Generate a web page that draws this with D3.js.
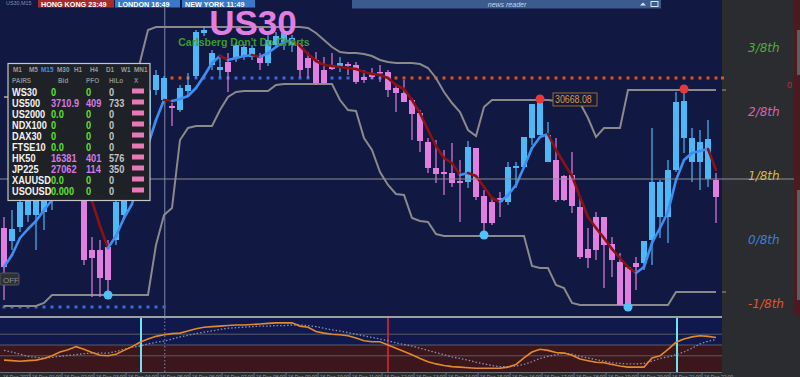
<!DOCTYPE html>
<html>
<head>
<meta charset="utf-8">
<script src="https://cdn.jsdelivr.net/npm/d3@7"></script>
<style>
  body { margin: 0; background: #2a2c30; overflow: hidden; }
  svg { display: block; font-family: "Liberation Sans", Arial, sans-serif; }
</style>
</head>
<body>
<div id="chart"></div>
<script>
// US30 M15 candles
const opens = [30410,30384,30412,30436,30436,30442,30466,30482,30522,30506,
  30486,30366,30366,30372,30386,30436,30476,30546,30616,30686,
  30666,30654,30646,30684,30714,30800,30736,30726,30742,30750,
  30752,30752,30752,30740,30776,30782,30776,30776,30750,30746,
  30726,30732,30732,30738,30736,30712,30720,30722,30722,30690,
  30680,30666,30640,30582,30530,30522,30520,30504,30502,30570,
  30474,30462,30470,30462,30530,30532,30590,30596,30542,30546,
  30514,30516,30452,30368,30432,30432,30378,30342,30332,30340,
  30340,30386,30432,30432,30526,30590,30542,30542,30508,30506]
const highs = [30432,30446,30476,30482,30486,30490,30510,30530,30536,30546,
  30506,30392,30386,30386,30476,30496,30556,30636,30696,30726,
  30714,30660,30696,30720,30806,30812,30766,30750,30760,30782,
  30778,30776,30760,30800,30802,30806,30796,30780,30762,30762,
  30752,30760,30752,30742,30742,30726,30730,30736,30726,30696,
  30706,30670,30646,30590,30586,30566,30580,30546,30584,30570,
  30486,30470,30482,30542,30542,30592,30658,30668.08,30622,30590,
  30516,30562,30470,30410,30442,30432,30392,30360,30332,30352,
  30384,30610,30506,30546,30682,30688,30610,30606,30626,30520]
const lows = [30266,30366,30402,30422,30366,30406,30446,30470,30482,30490,
  30336,30272,30272,30276,30376,30426,30466,30536,30606,30676,
  30662,30614,30642,30672,30710,30794,30726,30712,30682,30742,
  30746,30746,30726,30734,30770,30766,30762,30712,30710,30696,
  30698,30726,30722,30716,30698,30700,30708,30702,30672,30642,
  30662,30586,30562,30520,30500,30476,30492,30422,30490,30466,
  30396,30416,30432,30456,30490,30530,30576,30596,30542,30462,
  30464,30440,30348,30330,30346,30290,30312,30256,30252,30286,
  30326,30336,30390,30380,30522,30560,30502,30486,30492,30420]
const closes = [30332,30408,30462,30466,30466,30476,30496,30516,30496,30530,
  30346,30350,30310,30306,30462,30486,30546,30626,30686,30716,
  30710,30650,30690,30696,30802,30806,30760,30732,30722,30776,
  30772,30770,30740,30786,30794,30800,30790,30726,30730,30700,
  30700,30728,30740,30734,30702,30706,30712,30720,30686,30680,
  30662,30638,30584,30530,30518,30518,30500,30500,30572,30472,
  30420,30420,30462,30532,30534,30592,30658,30660,30596,30466,
  30466,30454,30352,30350,30366,30376,30346,30256,30256,30332,
  30384,30502,30502,30526,30662,30664,30590,30582,30588,30472]

// moving average (blue when rising, red when falling)
const ma = [30332,30356,30390,30408,30424,30446,30466,30480,30488,30490,
  30480,30464,30414,30370,30394,30430,30458,30516,30576,30626,
  30666,30664,30668,30674,30690,30714,30740,30754,30746,30750,
  30754,30756,30752,30760,30772,30782,30786,30774,30758,30744,
  30736,30734,30732,30730,30728,30722,30718,30716,30710,30696,
  30688,30666,30640,30606,30574,30550,30540,30516,30520,30514,
  30492,30470,30462,30476,30496,30532,30570,30592,30598,30566,
  30540,30514,30472,30432,30410,30390,30368,30350,30332,30320,
  30332,30380,30410,30442,30506,30546,30560,30564,30568,30526]

// channel bands
const upperBand = [30672,30672,30672,30672,30672,30672,30672,30672,30672,30672,
  30672,30672,30672,30672,30672,30672,30672,30742,30806,30812,
  30812,30812,30812,30812,30812,30812,30812,30812,30812,30812,
  30812,30812,30812,30812,30812,30812,30812,30812,30810,30800,
  30786,30772,30762,30760,30760,30758,30754,30746,30742,30740,
  30740,30740,30738,30730,30710,30682,30660,30642,30606,30594,
  30652,30666,30666,30666,30666,30666,30666,30666,30666,30664,
  30664,30662,30660,30630,30592,30610,30610,30610,30686,30686,
  30686,30686,30686,30686,30686,30686,30686,30686,30686,30686]
const lowerBand = [30254,30254,30254,30254,30254,30260,30276,30276,30276,30276,
  30276,30276,30276,30276,30276,30276,30276,30276,30276,30376,
  30436,30450,30586,30610,30614,30614,30614,30646,30672,30682,
  30684,30684,30684,30684,30696,30698,30698,30698,30698,30698,
  30698,30698,30666,30646,30644,30590,30566,30522,30496,30478,
  30476,30430,30424,30422,30398,30394,30394,30394,30394,30394,
  30394,30394,30394,30394,30394,30394,30334,30330,30330,30296,
  30290,30260,30256,30256,30256,30256,30256,30256,30256,30256,
  30256,30256,30256,30256,30282,30282,30282,30282,30282,30282]

// swing markers (candle index)
const swingHighs = [67, 85]
const swingLows = [13, 60, 78]
const priceTag = "30668.08"

// dotted level runs: [price, fromIndex, toIndex, kind]
const dotRuns = [[30252, 0, 20, "sup"], [30710, 21, 23, "res"], [30710, 24, 48, "sup"], [30710, 49, 89, "res"]]

// murrey math levels on the right
const mmNames = ["3/8th", "2/8th", "1/8th", "0/8th", "-1/8th"]
const mmLevels = [30764, 30636, 30508, 30380, 30252]
const mmColors = ["#4fae3a", "#d465b8", "#d6bd45", "#3d7fdc", "#e2542a"]

// oscillator window (0..100)
const osc = [22,21,20,21,22,25,30,37,41,47,
  42,36,31,30,33,40,47,55,61,66,
  69,71,72,76,80,83,84,85,86,87,
  87,88,89,90,91,91,91,85,83,75,
  72,70,69,67,63,58,56,56,50,44,
  38,32,25,19,15,12,10,9,8,7,
  7,7,7,9,14,26,37,42,40,36,
  35,31,24,21,18,17,14,11,9,9,
  9,26,30,42,55,61,65,67,66,64]
const oscSignal = [40,37,33,29,27,26,27,29,31,32,
  34,35,35,35,38,42,46,48,52,55,
  57,61,65,68,71,74,76,79,81,82,
  83,84,85,85,86,86,87,87,86,84,
  81,78,76,73,70,67,64,61,58,54,
  51,48,44,40,36,32,28,25,22,18,
  15,12,10,10,11,14,19,25,29,32,
  35,33,29,26,23,20,17,16,15,15,
  16,20,25,28,32,37,44,52,57,60]
const oscLevels = [70, 50, 30]
const upCrosses = [17, 84]
const downCrosses = [48]
const daySplit = 20.1

// time axis
const timeLabels = ["16 Dec 2022","16 Dec 01:00","16 Dec 02:00","16 Dec 03:00","16 Dec 04:00","16 Dec 05:00",
  "16 Dec 06:00","16 Dec 07:00","16 Dec 08:00","16 Dec 09:00","16 Dec 10:00","16 Dec 11:00","16 Dec 12:00",
  "16 Dec 13:00","16 Dec 14:00","16 Dec 15:00","16 Dec 16:00","16 Dec 17:00","16 Dec 18:00","16 Dec 19:00",
  "16 Dec 20:00","16 Dec 21:00","16 Dec 22:00"]

// dashboard table
const tfNames = ["M1","M5","M15","M30","H1","H4","D1","W1","MN1"]
const pairs = ["WS30","US500","US2000","NDX100","DAX30","FTSE10","HK50","JP225","XAUUSD","USOUSD"]
const bids = ["0","3710.9","0.0","0","0","0.0","16381","27062","0.0","0.000"]
const pfos = ["0","409","0","0","0","0","401","114","0","0"]
const hilos = ["0","733","0","0","0","0","576","350","0","0"]

// session clocks
const clocks = [["HONG KONG", "23:49"], ["LONDON", "16:49"], ["NEW YORK", "11:49"]]

// ---------------------------------------------------------------
const width = 800
const height = 377
const plotW = 722
const mainH = 316
const indTop = 318
const indBot = 372

const svg = d3.select("#chart")
  .append("svg")
    .attr("width", width)
    .attr("height", height)

const x = d3.scaleLinear().domain([0, closes.length - 1]).range([4, 716])
const y = d3.scaleLinear().domain([30234, 30866]).range([mainH, 0])
const yInd = d3.scaleLinear().domain([0, 100]).range([indBot, indTop])

const blue = "#4db8f5"
const pink = "#e07fe0"

// squeezed text, the terminal uses a narrow font
function narrowText(g, tx, ty, s, size, sx) {
  return g.append("text")
    .attr("transform", `translate(${tx},${ty}) scale(${sx},1)`)
    .attr("font-size", size)
    .text(s)
}

// backgrounds
svg.append("rect").attr("width", width).attr("height", height).attr("fill", "#2a2c30")
svg.append("rect").attr("width", plotW).attr("height", mainH).attr("fill", "#111842")
svg.append("rect").attr("y", indTop).attr("width", plotW).attr("height", yInd(50) - indTop).attr("fill", "#10184c")
svg.append("rect").attr("y", yInd(50)).attr("width", plotW).attr("height", indBot - yInd(50)).attr("fill", "#3b161b")

svg.append("clipPath").attr("id", "mainClip")
  .append("rect").attr("width", plotW).attr("height", mainH)
const main = svg.append("g").attr("clip-path", "url(#mainClip)")

// horizontal line on the 1/8th level
svg.append("line")
  .attr("x1", 0).attr("x2", 794)
  .attr("y1", y(mmLevels[2])).attr("y2", y(mmLevels[2]))
  .attr("stroke", "#8e8e8e").attr("stroke-width", 1)

// day separator
main.append("line")
  .attr("x1", x(daySplit)).attr("x2", x(daySplit))
  .attr("y1", 0).attr("y2", mainH)
  .attr("stroke", "#7c8aa8").attr("stroke-width", 1)

// dotted levels (small squares, one per bar)
dotRuns.forEach(r => {
  const idx = d3.range(r[1], r[2] + 1)
  main.append("g").selectAll("rect")
    .data(idx)
    .join("rect")
      .attr("x", i => x(i) - 1.5)
      .attr("y", y(r[0]) - 1.5)
      .attr("width", 3).attr("height", 3)
      .attr("fill", r[3] === "sup" ? "#3f68d8" : "#e2531f")
})

// channel bands
const bandLine = d3.line().x((d, i) => x(i)).y(d => y(d))
;[upperBand, lowerBand].forEach(b => {
  main.append("path")
    .attr("d", bandLine(b))
    .attr("fill", "none")
    .attr("stroke", "#8a8a8a")
    .attr("stroke-width", 2)
})

// candles
const idxs = d3.range(closes.length)
main.append("g").selectAll("line")
  .data(idxs)
  .join("line")
    .attr("x1", i => x(i)).attr("x2", i => x(i))
    .attr("y1", i => y(highs[i])).attr("y2", i => y(lows[i]))
    .attr("stroke", i => closes[i] >= opens[i] ? blue : pink)
    .attr("stroke-width", 1.2)
main.append("g").selectAll("rect")
  .data(idxs)
  .join("rect")
    .attr("x", i => x(i) - 3)
    .attr("y", i => y(Math.max(opens[i], closes[i])))
    .attr("width", 6)
    .attr("height", i => Math.max(1.5, Math.abs(y(opens[i]) - y(closes[i]))))
    .attr("fill", i => closes[i] >= opens[i] ? blue : pink)

// moving average, coloured by slope
main.append("g").selectAll("line")
  .data(d3.range(1, ma.length))
  .join("line")
    .attr("x1", i => x(i - 1)).attr("y1", i => y(ma[i - 1]))
    .attr("x2", i => x(i)).attr("y2", i => y(ma[i]))
    .attr("stroke", i => ma[i] >= ma[i - 1] ? "#3f8ef2" : "#8c1212")
    .attr("stroke-width", 2.6)
    .attr("stroke-linecap", "round")

// swing markers
main.selectAll("circle.hi")
  .data(swingHighs)
  .join("circle")
    .attr("class", "hi")
    .attr("cx", i => x(i)).attr("cy", i => y(highs[i]))
    .attr("r", 4.5).attr("fill", "#e8373a")
main.selectAll("circle.lo")
  .data(swingLows)
  .join("circle")
    .attr("class", "lo")
    .attr("cx", i => x(i)).attr("cy", i => y(lows[i]))
    .attr("r", 4.5).attr("fill", "#4fc3f7")

// price tag next to first swing high
const tagX = x(swingHighs[0]) + 14
const tagY = y(+priceTag)
svg.append("rect")
  .attr("x", tagX - 1).attr("y", tagY - 6)
  .attr("width", 44).attr("height", 13)
  .attr("fill", "#151a3a").attr("stroke", "#9a6a32").attr("stroke-width", 1)
narrowText(svg, tagX + 1, tagY + 4, priceTag, 10.5, 0.84).attr("fill", "#d89845")

// right axis ticks for band ends
;[upperBand, lowerBand].forEach(b => {
  svg.append("line")
    .attr("x1", plotW).attr("x2", plotW + 4)
    .attr("y1", y(b[b.length - 1])).attr("y2", y(b[b.length - 1]))
    .attr("stroke", "#9a9a9a")
})
svg.append("rect").attr("x", plotW - 1).attr("y", y(30710) - 1.5).attr("width", 3).attr("height", 3).attr("fill", "#e2531f")

// murrey labels
svg.selectAll("text.mm")
  .data(mmNames)
  .join("text")
    .attr("class", "mm")
    .attr("x", 748)
    .attr("y", (d, i) => y(mmLevels[i]) + 1)
    .attr("font-size", 12)
    .attr("font-style", "italic")
    .attr("font-family", "'DejaVu Sans', sans-serif")
    .attr("fill", (d, i) => mmColors[i])
    .text(d => d)

// right scroll strip
svg.append("rect").attr("x", 794).attr("y", 0).attr("width", 6).attr("height", mainH).attr("fill", "#4a1c22")
svg.append("rect").attr("x", 797).attr("y", 30).attr("width", 3).attr("height", 45).attr("fill", "#5e5c62")
svg.append("rect").attr("x", 797).attr("y", 190).attr("width", 3).attr("height", 110).attr("fill", "#5e5c62")
svg.append("text").attr("x", 787).attr("y", 88).attr("font-size", 9).attr("fill", "#c03030").text("0")

// title
svg.append("text")
  .attr("x", 253).attr("y", 35)
  .attr("text-anchor", "middle")
  .attr("font-size", 35).attr("font-weight", "bold")
  .attr("fill", "#e07fe0")
  .text("US30")
svg.append("text")
  .attr("x", 244).attr("y", 46)
  .attr("text-anchor", "middle")
  .attr("font-size", 10.5).attr("font-weight", "bold")
  .attr("fill", "#3d9b2c")
  .text("Carlsberg Don't Do Charts")

// top bar: session clocks and news reader
narrowText(svg, 6, 5, "US30,M15", 6, 0.9).attr("fill", "#8a8fa0")
const clockX = [38, 115, 182]
const clockW = [76, 65, 73]
clocks.forEach((c, i) => {
  svg.append("rect")
    .attr("x", clockX[i]).attr("y", 0).attr("width", clockW[i]).attr("height", 7.5)
    .attr("fill", i === 0 ? "#a32c2c" : "#3a78c8")
  narrowText(svg, clockX[i] + 3, 6.8, c[0] + "  " + c[1], 8, 0.9)
    .attr("font-weight", "bold").attr("fill", "#ffffff")
})
svg.append("rect").attr("x", 352).attr("y", 0).attr("width", 309).attr("height", 8.5).attr("fill", "#3b5a8e")
svg.append("text").attr("x", 507).attr("y", 6.5).attr("text-anchor", "middle")
  .attr("font-size", 7).attr("font-style", "italic").attr("fill", "#c8d0e0").text("news reader")
svg.append("path").attr("d", "M640,5.5 L643,2.5 L646,5.5 Z").attr("fill", "#e0e4ee")
svg.append("rect").attr("x", 651).attr("y", 1.5).attr("width", 7).attr("height", 5).attr("fill", "none").attr("stroke", "#e0e4ee")

// dashboard panel
const panel = svg.append("g").attr("font-weight", "bold")
panel.append("rect")
  .attr("x", 8).attr("y", 63.5).attr("width", 142).attr("height", 137)
  .attr("fill", "#1e2227").attr("stroke", "#c4c8cc").attr("stroke-width", 1.2)
const tfX = [13, 29, 41, 57, 74, 90, 106, 121, 134]
tfNames.forEach((d, i) => {
  narrowText(panel, tfX[i], 72, d, 8, 0.8).attr("fill", d === "M15" ? "#3f8ef2" : "#9a9a9a")
})
const hdr = [["PAIRS", 12], ["Bid", 58], ["PFO", 86], ["HiLo", 109], ["X", 134]]
hdr.forEach(h => {
  narrowText(panel, h[1], 83, h[0], 8, 0.8).attr("fill", "#8a8a8a")
})
const valColor = v => +v !== 0 ? "#d27be6" : "#5fe02c"
pairs.forEach((p, i) => {
  const ry = 95.5 + i * 11
  narrowText(panel, 12, ry, p, 11.5, 0.8).attr("fill", "#f2f2f2")
  narrowText(panel, 51, ry, bids[i], 11.5, 0.8).attr("fill", valColor(bids[i]))
  narrowText(panel, 86, ry, pfos[i], 11.5, 0.8).attr("fill", valColor(pfos[i]))
  narrowText(panel, 109, ry, hilos[i], 11.5, 0.8).attr("fill", "#c4c4c4")
  panel.append("rect").attr("x", 132).attr("y", ry - 7).attr("width", 12).attr("height", 5).attr("fill", "#e879b6")
})

// OFF button
svg.append("rect").attr("x", 0).attr("y", 273).attr("width", 19).attr("height", 12).attr("rx", 1.5)
  .attr("fill", "#2e3034").attr("stroke", "#55585e")
svg.append("text").attr("x", 3).attr("y", 282.5).attr("font-size", 8).attr("fill", "#8a8c90").text("OFF")

// ------------------ oscillator window -------------------------
svg.append("line").attr("x1", 0).attr("x2", plotW).attr("y1", 317).attr("y2", 317)
  .attr("stroke", "#9aa0a8").attr("stroke-width", 2)
oscLevels.forEach(l => {
  svg.append("line").attr("x1", 0).attr("x2", plotW).attr("y1", yInd(l)).attr("y2", yInd(l))
    .attr("stroke", "#595d68").attr("stroke-width", 1)
})
svg.append("line").attr("x1", x(daySplit)).attr("x2", x(daySplit)).attr("y1", indTop).attr("y2", indBot)
  .attr("stroke", "#8088b0").attr("stroke-dasharray", "1.5,2")

upCrosses.forEach(i => {
  svg.append("line").attr("x1", x(i) + 1).attr("x2", x(i) + 1).attr("y1", indTop).attr("y2", indBot)
    .attr("stroke", "#6fe3f3").attr("stroke-width", 2)
})
downCrosses.forEach(i => {
  svg.append("line").attr("x1", x(i)).attr("x2", x(i)).attr("y1", indTop).attr("y2", indBot)
    .attr("stroke", "#e0262a").attr("stroke-width", 1.6)
})

const oscLine = d3.line().x((d, i) => x(i)).y(d => yInd(d))
svg.append("path").attr("d", oscLine(oscSignal))
  .attr("fill", "none").attr("stroke", "#8c90b8").attr("stroke-width", 1.3).attr("stroke-dasharray", "1.5,2")
svg.append("path").attr("d", oscLine(osc))
  .attr("fill", "none").attr("stroke", "#e08a2c").attr("stroke-width", 1.6)

svg.append("line").attr("x1", 0).attr("x2", plotW).attr("y1", indBot + 0.5).attr("y2", indBot + 0.5)
  .attr("stroke", "#6a6e76")

// time axis (labels sit low, only their top shows like the terminal)
timeLabels.forEach((t, j) => {
  const tx = j === 0 ? 1 : x(4 * j - 0.75)
  if (j > 0) {
    svg.append("line").attr("x1", tx).attr("x2", tx).attr("y1", indBot).attr("y2", height)
      .attr("stroke", "#6a6e76")
  }
  narrowText(svg, tx + 2, 378.5, t, 6, 0.82).attr("fill", "#9a9ca2")
})
</script>
</body>
</html>
